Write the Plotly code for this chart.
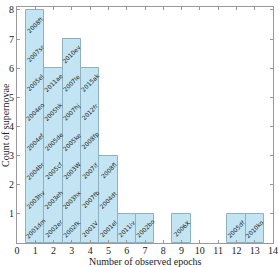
import plotly.graph_objects as go

epochs = [1, 2, 3, 4, 5, 6, 7, 9, 12, 13]
names_e1 = ["2001dm", "2003hv", "2004br", "2004ef", "2004eo", "2005el", "2007sr", "2008ft"]
names_e2 = ["2002er", "2003eh", "2005cf", "2005de", "2005hk", "2011ae"]
names_e3 = ["2002fk", "2003hx", "2003W", "2005ke", "2007hj", "2007le", "2010ev"]
names_e4 = ["2001V", "2007fb", "2007if", "2008fp", "2012fr", "2015ak"]
names_e5 = ["2001el", "2004dt", "2008fl"]
names_e6 = ["2011iv"]
names_e7 = ["2002bo"]
names_e9 = ["2006X"]
names_e12 = ["2005df"]
names_e13 = ["2010ko"]
names = [names_e1, names_e2, names_e3, names_e4, names_e5, names_e6,
         names_e7, names_e9, names_e12, names_e13]
counts = [8, 6, 7, 6, 3, 1, 1, 1, 1, 1]
x_ticks = list(range(0, 15))
y_ticks = list(range(1, 9))

fig = go.Figure()
fig.add_trace(go.Bar(
    x=epochs, y=counts, width=1.0,
    marker=dict(color="#c3e4f2", line=dict(color="#8fb0bf", width=1)),
    hoverinfo="skip",
))

serif = "Liberation Serif"
annotations = []
for e, lst in zip(epochs, names):
    for i, n in enumerate(lst):
        annotations.append(dict(
            x=e, y=i + 0.5, xref="x", yref="y", text=n, showarrow=False,
            textangle=-45, font=dict(family="DejaVu Sans", size=6, color="#222"),
        ))
annotations.append(dict(
    x=0, y=0.5, xref="paper", yref="paper", text="Count of supernovae",
    showarrow=False, textangle=-90, xanchor="center", yanchor="middle", xshift=-12,
    font=dict(family=serif, size=10, color="#222"),
))
annotations.append(dict(
    x=0.5, y=0, xref="paper", yref="paper", text="Number of observed epochs",
    showarrow=False, xanchor="center", yanchor="middle", yshift=-18,
    font=dict(family=serif, size=10, color="#222"),
))

fig.update_layout(
    width=279, height=267,
    margin=dict(l=17, r=6, t=7, b=24),
    paper_bgcolor="white", plot_bgcolor="white",
    showlegend=False, bargap=0,
    annotations=annotations,
    font=dict(family=serif, size=10, color="#222"),
    xaxis=dict(
        range=[0, 14], tickvals=x_ticks, ticks="inside", ticklen=3,
        tickcolor="#999", showline=True, linecolor="#999", linewidth=1,
        mirror="ticks", showgrid=False, zeroline=False, automargin=False,
        tickfont=dict(family=serif, size=10), ticklabelstandoff=-2,
    ),
    yaxis=dict(
        range=[0, 8.1], tickvals=y_ticks, ticks="inside", ticklen=3,
        tickcolor="#999", showline=True, linecolor="#999", linewidth=1,
        mirror="ticks", showgrid=False, zeroline=False, automargin=False,
        tickfont=dict(family=serif, size=10),
    ),
)
fig.write_html(
    "out.html",
    config={"displayModeBar": False},
    post_script="document.body.style.margin='0';document.body.style.padding='0';",
)
